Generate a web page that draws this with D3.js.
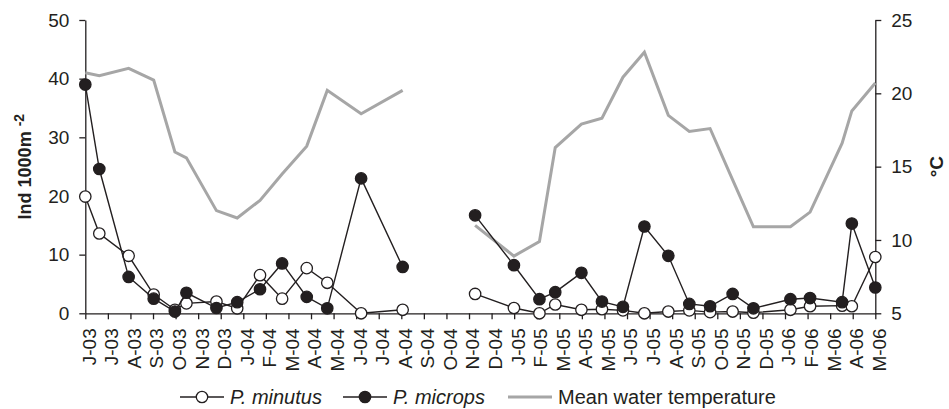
<!DOCTYPE html>
<html>
<head>
<meta charset="utf-8">
<script src="https://cdn.jsdelivr.net/npm/d3@7"></script>
<style>
    body { margin: 0; background: #fff; }
    svg { font-family: "Liberation Sans", Arial, sans-serif; }
</style>
</head>
<body>
<svg id="chart" width="949" height="409"></svg>
<script>

// month labels along the x axis, J-03 (June 2003) to M-06 (May 2006)
const monthLabels = ["J-03", "J-03", "A-03", "S-03", "O-03", "N-03", "D-03",
    "J-04", "F-04", "M-04", "A-04", "M-04", "J-04", "J-04", "A-04", "S-04", "O-04", "N-04", "D-04",
    "J-05", "F-05", "M-05", "A-05", "M-05", "J-05", "J-05", "A-05", "S-05", "O-05", "N-05", "D-05",
    "J-06", "F-06", "M-06", "A-06", "M-06"];

// sampling dates as month position (0 = J-03)
const samplePos = [0, 0.62, 1.92, 3.03, 3.97, 4.48, 5.81, 6.73, 7.74, 8.72, 9.81, 10.72, 12.22, 14.06,
    17.27, 18.99, 20.12, 20.82, 21.98, 22.89, 23.82, 24.77, 25.83, 26.76, 27.68, 28.68, 29.60,
    31.24, 32.11, 33.53, 33.96, 35];

// Ind 1000m-2
const minutus = [19.9, 13.6, 9.8, 3.2, 0.6, 1.7, 2.0, 0.85, 6.5, 2.5, 7.7, 5.2, 0, 0.6,
    3.3, 0.9, 0, 1.5, 0.6, 0.7, 0.5, 0, 0.3, 0.5, 0.2, 0.3, 0.1, 0.6, 1.2, 1.3, 1.2, 9.6];
const microps = [39.0, 24.6, 6.2, 2.5, 0.3, 3.5, 0.9, 1.9, 4.1, 8.5, 2.8, 0.85, 23.0, 7.9,
    16.7, 8.2, 2.4, 3.6, 6.9, 2.0, 1.1, 14.8, 9.8, 1.6, 1.2, 3.3, 0.85, 2.4, 2.6, 1.9, 15.3, 4.4];

// mean water temperature, °C
const waterTemp = [21.4, 21.2, 21.7, 20.9, 16.0, 15.6, 12.0, 11.5, 12.7, 14.5, 16.4, 20.2, 18.6, 20.2,
    11.0, 8.9, 9.9, 16.3, 17.9, 18.3, 21.1, 22.8, 18.5, 17.4, 17.6, 14.1, 10.9, 10.9, 11.9, 16.6, 18.8, 20.7];

const leftTicks = [0, 10, 20, 30, 40, 50];
const rightTicks = [5, 10, 15, 20, 25];


class DualAxisChart {
    #ink = "#231f20"
    #grey = "#a6a6a6"
    #radius = 5.7
    #plot = { 'left': 85.3, 'right': 875.3, 'top': 20, 'bottom': 313.3 }

    constructor(svgid){
        this.svg = d3.select(svgid);

        // one row per sample, with a break row where sampling stopped (S-04, O-04)
        this.rows = [];
        samplePos.forEach((p, i) => {
            if (i > 0 && p - samplePos[i - 1] > 2.5) this.rows.push(null);
            this.rows.push({ pos: p, minutus: minutus[i], microps: microps[i], temp: waterTemp[i] });
        });
        this.points = this.rows.filter(d => d !== null);
    }

    process(){
        const p = this.#plot;
        this.x = d3.scaleLinear().domain([0, monthLabels.length - 1]).range([p.left, p.right]);
        this.yL = d3.scaleLinear().domain([0, 50]).range([p.bottom, p.top]);
        this.yR = d3.scaleLinear().domain([5, 25]).range([p.bottom, p.top]);
        this.draw();
    }

    styleAxis(g){
        g.attr("font-family", null).attr("font-size", 19);
        g.select(".domain").attr("stroke", this.#ink).attr("stroke-width", 1.3);
        g.selectAll(".tick line").attr("stroke", this.#ink).attr("stroke-width", 1.3);
        g.selectAll(".tick text").attr("fill", this.#ink);
    }

    draw(){
        const p = this.#plot;

        // axes
        this.svg.append("g")
            .attr("transform", `translate(${p.left},0)`)
            .call(d3.axisLeft(this.yL).tickValues(leftTicks).tickSize(6).tickSizeOuter(0).tickPadding(10))
            .call(g => this.styleAxis(g));

        this.svg.append("g")
            .attr("transform", `translate(${p.right},0)`)
            .call(d3.axisRight(this.yR).tickValues(rightTicks).tickSize(6).tickSizeOuter(0).tickPadding(10))
            .call(g => this.styleAxis(g));

        this.svg.append("g")
            .attr("transform", `translate(0,${p.bottom})`)
            .call(d3.axisBottom(this.x).tickValues(d3.range(monthLabels.length))
                .tickFormat(i => monthLabels[i]).tickSize(6).tickSizeOuter(0))
            .call(g => this.styleAxis(g))
            .call(g => g.selectAll(".tick text")
                .attr("transform", "rotate(-90)")
                .attr("x", -15).attr("y", 0).attr("dy", "0.52em")
                .attr("text-anchor", "end"));

        // axis titles
        const yTitle = this.svg.append("text")
            .attr("transform", `translate(31,${(p.top + p.bottom) / 2}) rotate(-90)`)
            .attr("text-anchor", "middle")
            .attr("font-size", 18).attr("font-weight", "bold").attr("fill", this.#ink);
        yTitle.append("tspan").text("Ind 1000m ");
        yTitle.append("tspan").attr("dy", "-0.5em").attr("font-size", 14).text("-2");

        this.svg.append("text")
            .attr("transform", `translate(943,${(p.top + p.bottom) / 2}) rotate(-90)`)
            .attr("text-anchor", "middle")
            .attr("font-size", 19).attr("font-weight", "bold").attr("fill", this.#ink)
            .text("°C");

        // temperature line
        const tempLine = d3.line().defined(d => d !== null)
            .x(d => this.x(d.pos)).y(d => this.yR(d.temp));
        this.svg.append("path")
            .attr("d", tempLine(this.rows))
            .attr("fill", "none").attr("stroke", this.#grey).attr("stroke-width", 3);

        // the two species, open then filled
        const series = [
            { key: "minutus", fill: "#fff" },
            { key: "microps", fill: this.#ink }
        ];
        series.forEach(s => {
            const line = d3.line().defined(d => d !== null)
                .x(d => this.x(d.pos)).y(d => this.yL(d[s.key]));
            const layer = this.svg.append("g");
            layer.append("path")
                .attr("d", line(this.rows))
                .attr("fill", "none").attr("stroke", this.#ink).attr("stroke-width", 1.4);
            layer.selectAll(".node")
                .data(this.points)
                .join("circle")
                .attr("class", "node")
                .attr("cx", d => this.x(d.pos))
                .attr("cy", d => this.yL(d[s.key]))
                .attr("r", this.#radius)
                .attr("fill", s.fill)
                .attr("stroke", this.#ink).attr("stroke-width", 1.3);
        });

        this.legend();
    }

    legend(){
        const ly = 397;
        const items = [
            { x: 180, label: "P. minutus", italic: true, marker: "#fff", stroke: this.#ink, w: 1.4 },
            { x: 343, label: "P. microps", italic: true, marker: this.#ink, stroke: this.#ink, w: 1.4 },
            { x: 508, label: "Mean water temperature", italic: false, marker: null, stroke: this.#grey, w: 3 }
        ];
        const g = this.svg.append("g");
        items.forEach(it => {
            g.append("line")
                .attr("x1", it.x).attr("x2", it.x + 44)
                .attr("y1", ly).attr("y2", ly)
                .attr("stroke", it.stroke).attr("stroke-width", it.w);
            if (it.marker) {
                g.append("circle")
                    .attr("cx", it.x + 22).attr("cy", ly).attr("r", this.#radius)
                    .attr("fill", it.marker).attr("stroke", this.#ink).attr("stroke-width", 1.3);
            }
            g.append("text")
                .attr("x", it.x + 50).attr("y", ly).attr("dy", "0.35em")
                .attr("font-size", 20).attr("fill", this.#ink)
                .attr("font-style", it.italic ? "italic" : null)
                .text(it.label);
        });
    }
}

new DualAxisChart("#chart").process();
</script>
</body>
</html>
